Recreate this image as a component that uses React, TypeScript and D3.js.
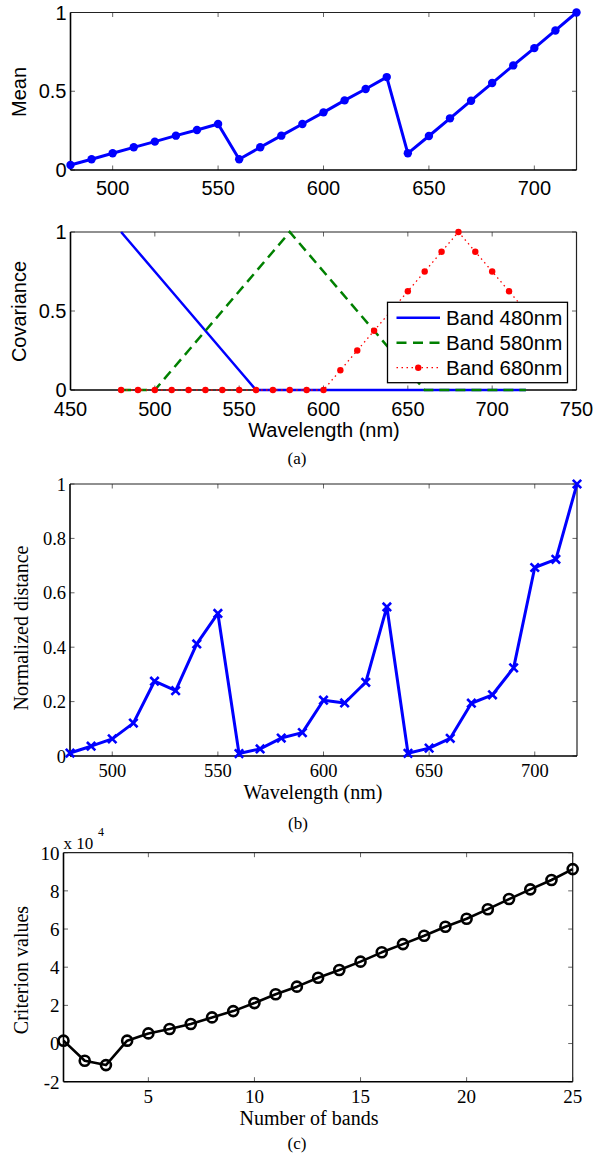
import React from 'react';
import * as d3 from 'd3';

// ---------------- DATA ----------------
const wavelengths = [480, 490, 500, 510, 520, 530, 540, 550, 560, 570, 580, 590, 600, 610, 620, 630, 640, 650, 660, 670, 680, 690, 700, 710, 720];
const meanValues = [0.032, 0.068, 0.106, 0.144, 0.18, 0.218, 0.254, 0.292, 0.068, 0.144, 0.218, 0.292, 0.366, 0.442, 0.514, 0.59, 0.106, 0.216, 0.328, 0.44, 0.552, 0.664, 0.774, 0.886, 1.0];

const cov480 = [1, 0.875, 0.75, 0.625, 0.5, 0.375, 0.25, 0.125, 0, 0, 0, 0, 0, 0, 0, 0, 0, 0, 0, 0, 0, 0, 0, 0, 0];
const cov580 = [0, 0, 0, 0.125, 0.25, 0.375, 0.5, 0.625, 0.75, 0.875, 1, 0.875, 0.75, 0.625, 0.5, 0.375, 0.25, 0.125, 0, 0, 0, 0, 0, 0, 0];
const cov680 = [0, 0, 0, 0, 0, 0, 0, 0, 0, 0, 0, 0, 0, 0.125, 0.25, 0.375, 0.5, 0.625, 0.75, 0.875, 1, 0.875, 0.75, 0.625, 0.5];
const legendLabels = ['Band 480nm', 'Band 580nm', 'Band 680nm'];

const distValues = [0.011, 0.036, 0.063, 0.121, 0.275, 0.24, 0.412, 0.524, 0.009, 0.026, 0.066, 0.086, 0.205, 0.195, 0.271, 0.548, 0.01, 0.029, 0.065, 0.194, 0.225, 0.324, 0.693, 0.723, 1.0];

const bandCounts = [1, 2, 3, 4, 5, 6, 7, 8, 9, 10, 11, 12, 13, 14, 15, 16, 17, 18, 19, 20, 21, 22, 23, 24, 25];
const criterionValues = [0.15, -0.9, -1.13, 0.15, 0.53, 0.76, 1.02, 1.37, 1.7, 2.12, 2.58, 2.98, 3.45, 3.85, 4.29, 4.78, 5.21, 5.65, 6.12, 6.54, 7.04, 7.57, 8.08, 8.57, 9.14];

const ticksMeanX = [500, 550, 600, 650, 700];
const ticksMeanY = [0, 0.5, 1];
const ticksCovX = [450, 500, 550, 600, 650, 700, 750];
const ticksCovY = [0, 0.5, 1];
const ticksDistX = [500, 550, 600, 650, 700];
const ticksDistY = [0, 0.2, 0.4, 0.6, 0.8, 1];
const ticksCritX = [5, 10, 15, 20, 25];
const ticksCritY = [-2, 0, 2, 4, 6, 8, 10];

// ---------------- STYLE ----------------
const SANS = '"Liberation Sans", Arial, Helvetica, sans-serif';
const SERIF = '"Liberation Serif", "Times New Roman", Times, serif';
const BLUE = '#0000ff';
const GREEN = '#008000';
const RED = '#ff0000';

type Box = { l: number; r: number; t: number; b: number };

function Frame({ box, xs, ys, xTicks, yTicks, font, size, xOff, fmtY }: any) {
  const tl = 4.5;
  return (
    <g>
      {xTicks.map((v: number, i: number) => (
        <g key={'xt' + i}>
          <line x1={xs(v)} x2={xs(v)} y1={box.b} y2={box.b - tl} stroke="#666" strokeWidth={1} />
          <line x1={xs(v)} x2={xs(v)} y1={box.t} y2={box.t + tl} stroke="#666" strokeWidth={1} />
          <text x={xs(v)} y={box.b + xOff} textAnchor="middle" fontFamily={font} fontSize={size} fill="#000">{String(v)}</text>
        </g>
      ))}
      {yTicks.map((v: number, i: number) => (
        <g key={'yt' + i}>
          <line x1={box.l} x2={box.l + tl} y1={ys(v)} y2={ys(v)} stroke="#666" strokeWidth={1} />
          <line x1={box.r} x2={box.r - tl} y1={ys(v)} y2={ys(v)} stroke="#666" strokeWidth={1} />
          <text x={box.l - 4} y={ys(v)} dy="0.36em" textAnchor="end" fontFamily={font} fontSize={size} fill="#000">{fmtY(v)}</text>
        </g>
      ))}
      <line x1={box.l} x2={box.r} y1={box.t} y2={box.t} stroke="#222" strokeWidth={1.2} />
      <line x1={box.r} x2={box.r} y1={box.t} y2={box.b} stroke="#222" strokeWidth={1.2} />
      <line x1={box.l} x2={box.r} y1={box.b} y2={box.b} stroke="#000" strokeWidth={1.6} />
      <line x1={box.l} x2={box.l} y1={box.t} y2={box.b} stroke="#000" strokeWidth={1.6} />
    </g>
  );
}

function fmt(v: number) {
  return String(+v.toFixed(2));
}

export default function App() {
  // Panel 1 : Mean
  const b1: Box = { l: 70.5, r: 576.5, t: 12.5, b: 170 };
  const x1 = d3.scaleLinear().domain([480, 720]).range([b1.l, b1.r]);
  const y1 = d3.scaleLinear().domain([0, 1]).range([b1.b, b1.t]);
  const line1 = d3.line<number>().x((_, i) => x1(wavelengths[i])).y((d) => y1(d));

  // Panel 2 : Covariance
  const b2: Box = { l: 70.5, r: 576.5, t: 232, b: 390 };
  const x2 = d3.scaleLinear().domain([450, 750]).range([b2.l, b2.r]);
  const y2 = d3.scaleLinear().domain([0, 1]).range([b2.b, b2.t]);
  const line2 = d3.line<number>().x((_, i) => x2(wavelengths[i])).y((d) => y2(d));

  // Panel 3 : Normalized distance
  const b3: Box = { l: 70, r: 577, t: 484, b: 756 };
  const x3 = d3.scaleLinear().domain([480, 720]).range([b3.l, b3.r]);
  const y3 = d3.scaleLinear().domain([0, 1]).range([b3.b, b3.t]);
  const line3 = d3.line<number>().x((_, i) => x3(wavelengths[i])).y((d) => y3(d));

  // Panel 4 : Criterion
  const b4: Box = { l: 63.5, r: 572.7, t: 852.7, b: 1081.7 };
  const x4 = d3.scaleLinear().domain([1, 25]).range([b4.l, b4.r]);
  const y4 = d3.scaleLinear().domain([-2, 10]).range([b4.b, b4.t]);
  const line4 = d3.line<number>().x((_, i) => x4(bandCounts[i])).y((d) => y4(d));

  const leg = { l: 387.5, r: 567.5, t: 302.3, b: 382.7, rows: [317.7, 342.7, 367.7], lx1: 396.5, lx2: 440, tx: 446 };

  const ms = 4.2;

  return (
    <svg width={600} height={1156} style={{ position: 'absolute', left: 0, top: 0, background: '#fff' }} xmlns="http://www.w3.org/2000/svg">
      <rect x={0} y={0} width={600} height={1156} fill="#fff" />

      {/* ---------- Panel 1 ---------- */}
      <Frame box={b1} xs={x1} ys={y1} xTicks={ticksMeanX} yTicks={ticksMeanY} font={SANS} size={20} xOff={25} fmtY={fmt} />
      <path d={line1(meanValues) || ''} fill="none" stroke={BLUE} strokeWidth={3} strokeLinejoin="round" />
      {meanValues.map((v, i) => (
        <circle key={'m' + i} cx={x1(wavelengths[i])} cy={y1(v)} r={4.2} fill={BLUE} />
      ))}
      <text transform={`translate(26,92) rotate(-90)`} textAnchor="middle" fontFamily={SANS} fontSize={20} fill="#000">Mean</text>

      {/* ---------- Panel 2 ---------- */}
      <Frame box={b2} xs={x2} ys={y2} xTicks={ticksCovX} yTicks={ticksCovY} font={SANS} size={20} xOff={26} fmtY={fmt} />
      <path d={line2(cov480) || ''} fill="none" stroke={BLUE} strokeWidth={2.5} />
      <path d={line2(cov580) || ''} fill="none" stroke={GREEN} strokeWidth={2.5} strokeDasharray="10 6" />
      <path d={line2(cov680) || ''} fill="none" stroke={RED} strokeWidth={1.3} strokeDasharray="1.5 3.5" />
      {cov680.map((v, i) => (
        <circle key={'c' + i} cx={x2(wavelengths[i])} cy={y2(v)} r={3.2} fill={RED} />
      ))}
      <text transform={`translate(26,311.5) rotate(-90)`} textAnchor="middle" fontFamily={SANS} fontSize={20} fill="#000">Covariance</text>
      <text x={324} y={437} textAnchor="middle" fontFamily={SANS} fontSize={20} fill="#000">Wavelength (nm)</text>

      {/* legend */}
      <rect x={leg.l} y={leg.t} width={leg.r - leg.l} height={leg.b - leg.t} fill="#fff" stroke="#000" strokeWidth={1.3} />
      <line x1={leg.lx1} x2={leg.lx2} y1={leg.rows[0]} y2={leg.rows[0]} stroke={BLUE} strokeWidth={2.5} />
      <line x1={leg.lx1} x2={leg.lx2} y1={leg.rows[1]} y2={leg.rows[1]} stroke={GREEN} strokeWidth={2.5} strokeDasharray="10 6.5" />
      <line x1={leg.lx1} x2={leg.lx2} y1={leg.rows[2]} y2={leg.rows[2]} stroke={RED} strokeWidth={1.3} strokeDasharray="1.5 3.5" />
      <circle cx={(leg.lx1 + leg.lx2) / 2} cy={leg.rows[2]} r={3.2} fill={RED} />
      {legendLabels.map((t, i) => (
        <text key={'lg' + i} x={leg.tx} y={leg.rows[i]} dy="0.36em" fontFamily={SANS} fontSize={20.5} fill="#000">{t}</text>
      ))}
      <text x={297} y={464} textAnchor="middle" fontFamily={SERIF} fontSize={17} fill="#000">(a)</text>

      {/* ---------- Panel 3 ---------- */}
      <Frame box={b3} xs={x3} ys={y3} xTicks={ticksDistX} yTicks={ticksDistY} font={SERIF} size={18.5} xOff={21} fmtY={fmt} />
      <path d={line3(distValues) || ''} fill="none" stroke={BLUE} strokeWidth={3} strokeLinejoin="round" />
      {distValues.map((v, i) => {
        const cx = x3(wavelengths[i]);
        const cy = y3(v);
        return (
          <path key={'d' + i} d={`M${cx - ms},${cy - ms}L${cx + ms},${cy + ms}M${cx - ms},${cy + ms}L${cx + ms},${cy - ms}`} stroke={BLUE} strokeWidth={2.6} fill="none" />
        );
      })}
      <text transform={`translate(28,628) rotate(-90)`} textAnchor="middle" fontFamily={SERIF} fontSize={20} fill="#000">Normalized distance</text>
      <text x={313} y={799} textAnchor="middle" fontFamily={SERIF} fontSize={20} fill="#000">Wavelength (nm)</text>
      <text x={298} y={829} textAnchor="middle" fontFamily={SERIF} fontSize={17} fill="#000">(b)</text>

      {/* ---------- Panel 4 ---------- */}
      <Frame box={b4} xs={x4} ys={y4} xTicks={ticksCritX} yTicks={ticksCritY} font={SERIF} size={19} xOff={21.5} fmtY={fmt} />
      <path d={line4(criterionValues) || ''} fill="none" stroke="#000" strokeWidth={2.6} strokeLinejoin="round" />
      {criterionValues.map((v, i) => (
        <circle key={'k' + i} cx={x4(bandCounts[i])} cy={y4(v)} r={5} fill="none" stroke="#000" strokeWidth={2.6} />
      ))}
      <text x={63.5} y={849} fontFamily={SERIF} fontSize={17} fill="#000">x 10</text>
      <text x={98} y={836} fontFamily={SERIF} fontSize={12} fill="#000">4</text>
      <text transform={`translate(28,970) rotate(-90)`} textAnchor="middle" fontFamily={SERIF} fontSize={20} fill="#000">Criterion values</text>
      <text x={309} y={1125} textAnchor="middle" fontFamily={SERIF} fontSize={20} fill="#000">Number of bands</text>
      <text x={297} y={1149} textAnchor="middle" fontFamily={SERIF} fontSize={17} fill="#000">(c)</text>
    </svg>
  );
}
